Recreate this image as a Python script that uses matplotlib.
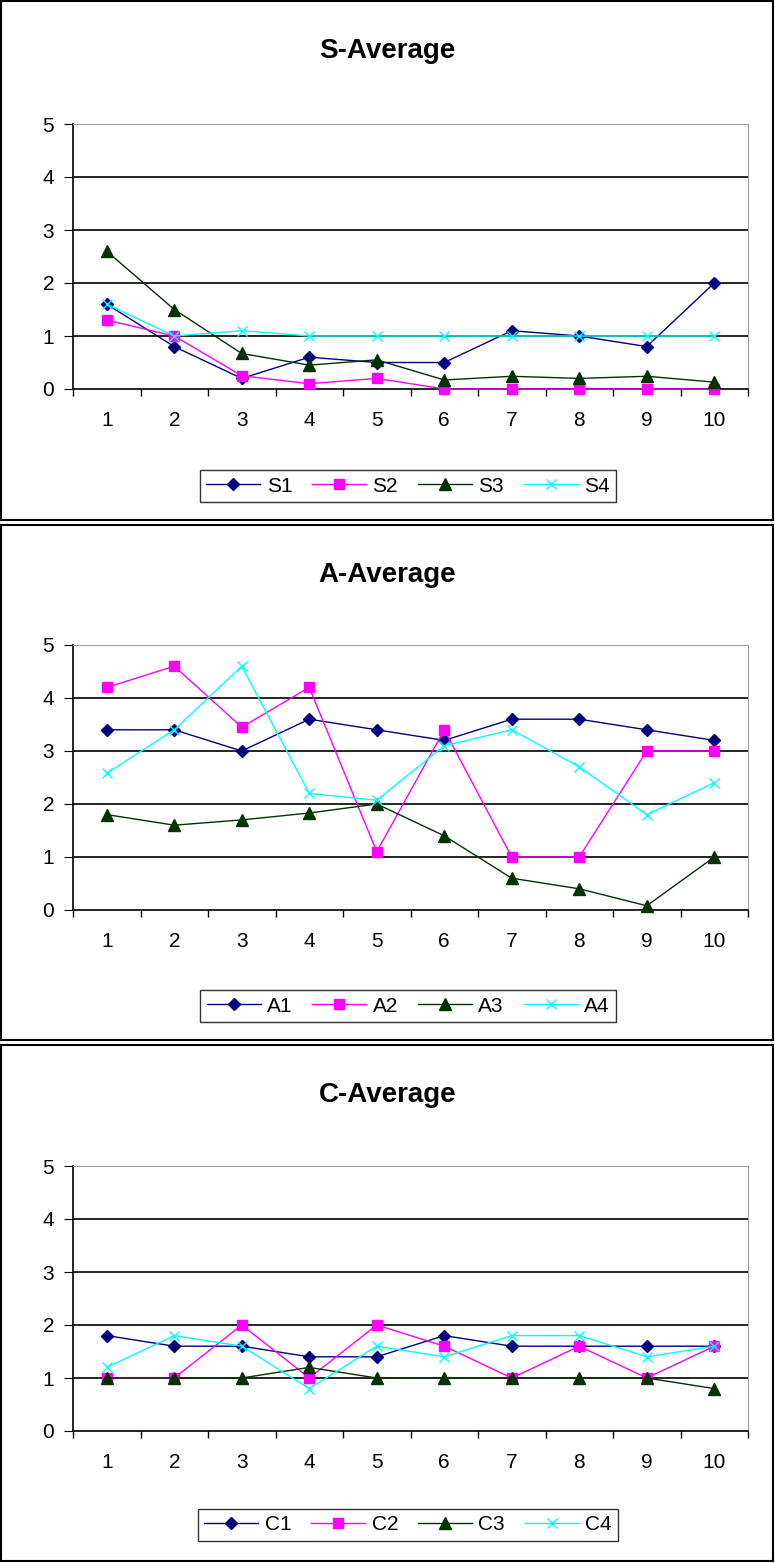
import numpy as np
import matplotlib.pyplot as plt
from matplotlib.patches import Rectangle

plt.rcParams['font.family'] = ['Liberation Sans', 'DejaVu Sans']

x = list(range(1, 11))

# S-Average
s1 = [1.6, 0.8, 0.2, 0.6, 0.5, 0.5, 1.1, 1.0, 0.8, 2.0]
s2 = [1.3, 1.0, 0.25, 0.1, 0.2, 0.0, 0.0, 0.0, 0.0, 0.0]
s3 = [2.6, 1.5, 0.67, 0.45, 0.55, 0.17, 0.24, 0.2, 0.24, 0.13]
s4 = [1.6, 1.0, 1.1, 1.0, 1.0, 1.0, 1.0, 1.0, 1.0, 1.0]

# A-Average
a1 = [3.4, 3.4, 3.0, 3.6, 3.4, 3.2, 3.6, 3.6, 3.4, 3.2]
a2 = [4.2, 4.6, 3.45, 4.2, 1.1, 3.4, 1.0, 1.0, 3.0, 3.0]
a3 = [1.8, 1.6, 1.7, 1.83, 2.0, 1.4, 0.6, 0.4, 0.08, 1.0]
a4 = [2.58, 3.4, 4.6, 2.2, 2.07, 3.1, 3.4, 2.7, 1.8, 2.4]

# C-Average
c1 = [1.8, 1.6, 1.6, 1.4, 1.4, 1.8, 1.6, 1.6, 1.6, 1.6]
c2 = [1.0, 1.0, 2.0, 1.0, 2.0, 1.6, 1.0, 1.6, 1.0, 1.6]
c3 = [1.0, 1.0, 1.0, 1.2, 1.0, 1.0, 1.0, 1.0, 1.0, 0.8]
c4 = [1.2, 1.8, 1.6, 0.8, 1.6, 1.4, 1.8, 1.8, 1.4, 1.6]

charts = [
    ("S-Average", [("S1", s1), ("S2", s2), ("S3", s3), ("S4", s4)]),
    ("A-Average", [("A1", a1), ("A2", a2), ("A3", a3), ("A4", a4)]),
    ("C-Average", [("C1", c1), ("C2", c2), ("C3", c3), ("C4", c4)]),
]

styles = [
    dict(color='#000080', marker='D', markersize=6.5),
    dict(color='#ff00ff', marker='s', markersize=7),
    dict(color='#003300', marker='^', markersize=8),
    dict(color='#00ffff', marker='x', markersize=7, markeredgewidth=1),
]

W, H = 775, 1563
fig = plt.figure(figsize=(W / 100, H / 100), dpi=100)

# pixel layout of each chart block
frames = [(1, 1, 773, 520), (1, 525, 773, 1040), (1, 1045, 773, 1561)]
plot_tops = [124, 645, 1166]
legend_y = [486, 1006, 1525]
plot_h = 265
px_left, px_right = 73, 748

for (title, series), (fx0, fy0, fx1, fy1), ptop, ly in zip(charts, frames, plot_tops, legend_y):
    # chart border
    fig.patches.append(Rectangle((fx0 / W, 1 - fy1 / H), (fx1 - fx0) / W, (fy1 - fy0) / H,
                                 transform=fig.transFigure, fill=False,
                                 edgecolor='black', linewidth=1.5))
    ax = fig.add_axes([px_left / W, 1 - (ptop + plot_h) / H,
                       (px_right - px_left) / W, plot_h / H])
    for (name, vals), st in zip(series, styles):
        ax.plot(x, vals, label=name, linewidth=1, clip_on=False, zorder=3, **st)

    ax.set_xlim(0.5, 10.5)
    ax.set_ylim(0, 5)
    ax.set_yticks(range(0, 6))
    ax.set_xticks(x)
    ax.set_xticks(np.arange(0.5, 11, 1), minor=True)
    ax.tick_params(axis='x', which='major', length=0, pad=16, labelsize=15)
    ax.tick_params(axis='x', which='minor', length=5, direction='out', width=1)
    ax.tick_params(axis='y', length=6.5, direction='out', labelsize=15, pad=7)
    for yv in range(1, 5):
        ax.axhline(yv, color='black', linewidth=1.2, zorder=0.5)
    for sp in ['top', 'right']:
        ax.spines[sp].set_color('#a0a0a0')
    for sp in ['left', 'bottom']:
        ax.spines[sp].set_color('black')
        ax.spines[sp].set_linewidth(1.2)

    fig.text(0.5, 1 - (fy0 + 57) / H, title, ha='center', va='baseline',
             fontsize=20, fontweight='bold')

    leg = ax.legend(loc='center', bbox_to_anchor=(408 / W, 1 - ly / H),
                    bbox_transform=fig.transFigure, ncol=4, fontsize=15,
                    frameon=True, fancybox=False, edgecolor='black',
                    handlelength=2.6, columnspacing=0.95, handletextpad=0.3,
                    borderpad=0.3, borderaxespad=0)
    leg.get_frame().set_linewidth(1)

fig.savefig('out.png', dpi=100)
